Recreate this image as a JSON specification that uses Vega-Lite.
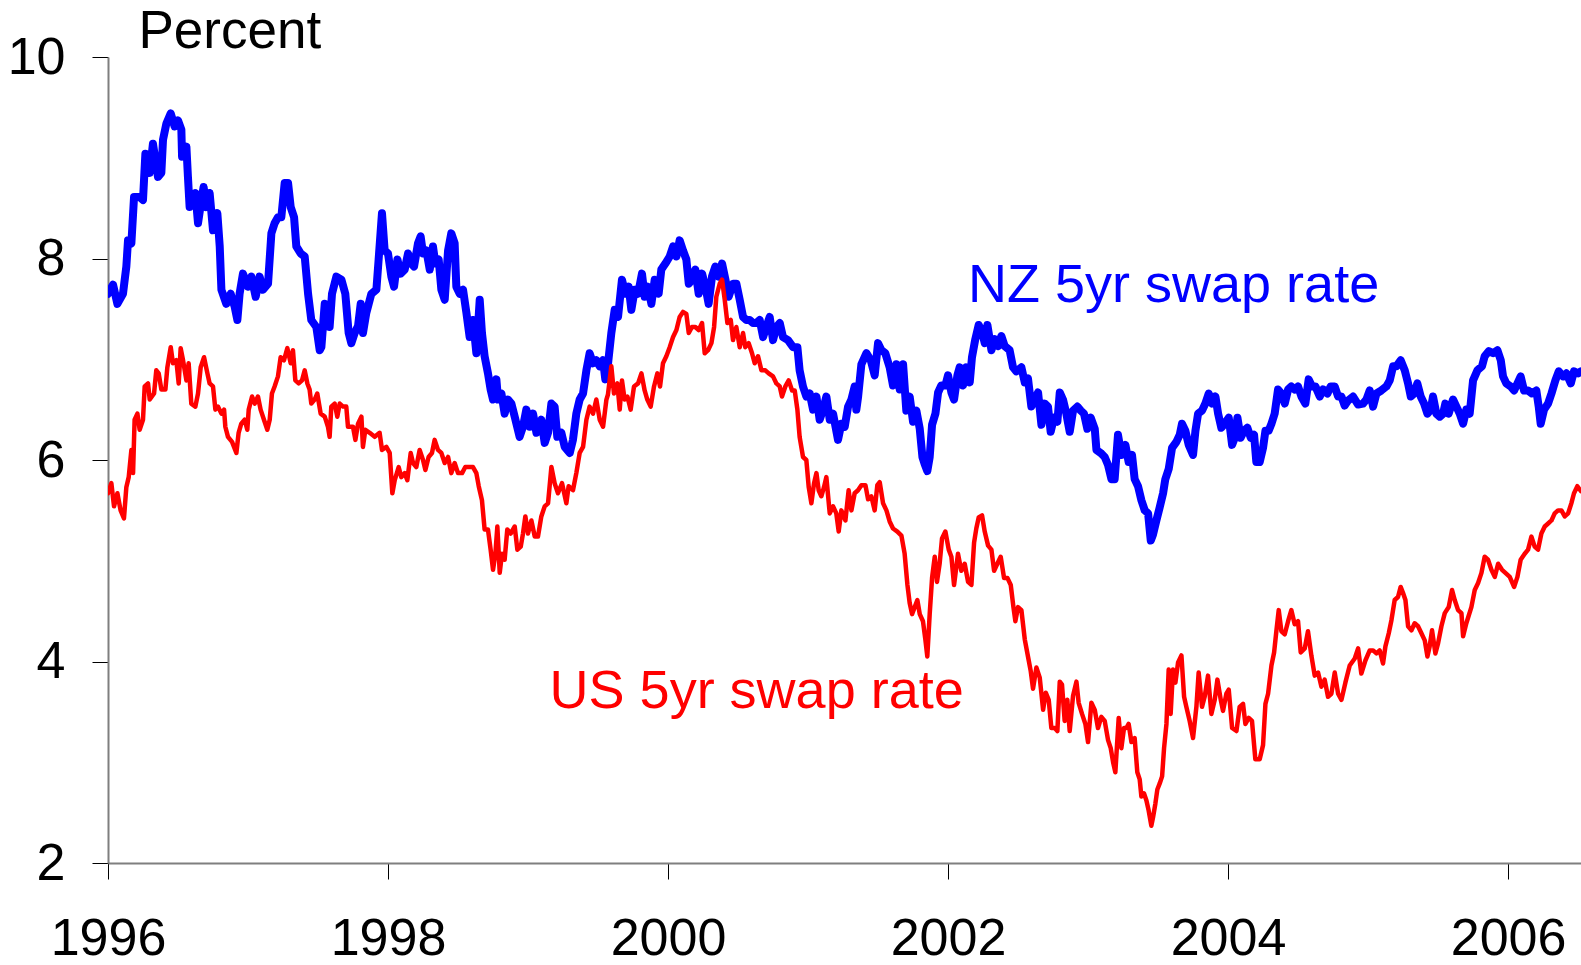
{
"$schema": "https://vega.github.io/schema/vega-lite/v6.json",
"width": 1473,
"height": 806,
"autosize": {"type": "none"},
"padding": {"left": 108, "top": 57, "right": 0, "bottom": 102},
"background": "white",
"view": {"stroke": null},
"config": {"font": "Liberation Sans"},
"datasets": {
"nz": [
{"t":1996.000,"v":7.65},{"t":1996.036,"v":7.74},{"t":1996.067,"v":7.55},{"t":1996.107,"v":7.65},{"t":1996.131,"v":7.92},{"t":1996.143,"v":8.18},{"t":1996.167,"v":8.15},{"t":1996.186,"v":8.61},{"t":1996.226,"v":8.61},{"t":1996.250,"v":8.58},{"t":1996.267,"v":9.04},{"t":1996.298,"v":8.85},{"t":1996.321,"v":9.14},{"t":1996.357,"v":8.81},{"t":1996.381,"v":8.85},{"t":1996.393,"v":9.18},{"t":1996.417,"v":9.34},{"t":1996.448,"v":9.44},{"t":1996.476,"v":9.31},{"t":1996.500,"v":9.37},{"t":1996.524,"v":9.28},{"t":1996.529,"v":9.01},{"t":1996.560,"v":9.11},{"t":1996.571,"v":8.81},{"t":1996.583,"v":8.51},{"t":1996.607,"v":8.58},{"t":1996.624,"v":8.65},{"t":1996.643,"v":8.35},{"t":1996.667,"v":8.58},{"t":1996.683,"v":8.71},{"t":1996.702,"v":8.51},{"t":1996.726,"v":8.65},{"t":1996.750,"v":8.28},{"t":1996.781,"v":8.45},{"t":1996.798,"v":8.12},{"t":1996.810,"v":7.69},{"t":1996.845,"v":7.55},{"t":1996.876,"v":7.65},{"t":1996.905,"v":7.52},{"t":1996.924,"v":7.39},{"t":1996.940,"v":7.65},{"t":1996.964,"v":7.85},{"t":1997.000,"v":7.72},{"t":1997.024,"v":7.82},{"t":1997.055,"v":7.62},{"t":1997.083,"v":7.82},{"t":1997.107,"v":7.69},{"t":1997.143,"v":7.75},{"t":1997.167,"v":8.25},{"t":1997.190,"v":8.35},{"t":1997.214,"v":8.41},{"t":1997.238,"v":8.41},{"t":1997.262,"v":8.75},{"t":1997.286,"v":8.75},{"t":1997.305,"v":8.51},{"t":1997.329,"v":8.41},{"t":1997.345,"v":8.12},{"t":1997.376,"v":8.05},{"t":1997.405,"v":8.02},{"t":1997.429,"v":7.65},{"t":1997.452,"v":7.39},{"t":1997.488,"v":7.32},{"t":1997.512,"v":7.09},{"t":1997.524,"v":7.12},{"t":1997.548,"v":7.55},{"t":1997.571,"v":7.45},{"t":1997.583,"v":7.32},{"t":1997.600,"v":7.65},{"t":1997.631,"v":7.82},{"t":1997.667,"v":7.79},{"t":1997.695,"v":7.65},{"t":1997.719,"v":7.26},{"t":1997.738,"v":7.16},{"t":1997.762,"v":7.26},{"t":1997.786,"v":7.33},
{"t":1997.805,"v":7.55},{"t":1997.821,"v":7.26},{"t":1997.845,"v":7.46},{"t":1997.881,"v":7.65},{"t":1997.917,"v":7.69},{"t":1997.933,"v":7.99},{"t":1997.957,"v":8.45},{"t":1997.976,"v":8.08},{"t":1998.000,"v":8.05},{"t":1998.024,"v":7.82},{"t":1998.043,"v":7.72},{"t":1998.067,"v":7.99},{"t":1998.090,"v":7.85},{"t":1998.119,"v":7.89},{"t":1998.143,"v":8.05},{"t":1998.167,"v":7.95},{"t":1998.186,"v":7.92},{"t":1998.214,"v":8.15},{"t":1998.233,"v":8.22},{"t":1998.250,"v":8.05},{"t":1998.274,"v":8.08},{"t":1998.298,"v":7.89},{"t":1998.321,"v":8.12},{"t":1998.338,"v":7.95},{"t":1998.362,"v":7.99},{"t":1998.381,"v":7.69},{"t":1998.405,"v":7.59},{"t":1998.429,"v":8.08},{"t":1998.452,"v":8.25},{"t":1998.476,"v":8.15},{"t":1998.488,"v":7.72},{"t":1998.512,"v":7.65},{"t":1998.536,"v":7.69},{"t":1998.560,"v":7.46},{"t":1998.583,"v":7.22},{"t":1998.607,"v":7.39},{"t":1998.631,"v":7.06},{"t":1998.655,"v":7.59},{"t":1998.671,"v":7.26},{"t":1998.690,"v":7.03},{"t":1998.714,"v":6.86},{"t":1998.733,"v":6.70},{"t":1998.750,"v":6.60},{"t":1998.774,"v":6.80},{"t":1998.786,"v":6.60},{"t":1998.810,"v":6.66},{"t":1998.833,"v":6.46},{"t":1998.857,"v":6.60},{"t":1998.881,"v":6.56},{"t":1998.905,"v":6.43},{"t":1998.940,"v":6.23},{"t":1998.964,"v":6.33},{"t":1998.988,"v":6.50},{"t":1999.012,"v":6.33},{"t":1999.036,"v":6.46},{"t":1999.060,"v":6.27},{"t":1999.095,"v":6.40},{"t":1999.119,"v":6.17},{"t":1999.143,"v":6.27},{"t":1999.167,"v":6.56},{"t":1999.190,"v":6.53},{"t":1999.209,"v":6.23},{"t":1999.238,"v":6.27},{"t":1999.262,"v":6.13},{"t":1999.298,"v":6.07},{"t":1999.321,"v":6.20},{"t":1999.345,"v":6.46},{"t":1999.369,"v":6.60},{"t":1999.393,"v":6.66},{"t":1999.417,"v":6.89},{"t":1999.440,"v":7.06},{"t":1999.464,"v":6.96},{"t":1999.488,"v":6.99},{"t":1999.512,"v":6.93},{"t":1999.536,"v":6.99},{"t":1999.552,"v":6.80},{"t":1999.571,"v":6.95},
{"t":1999.595,"v":7.26},{"t":1999.619,"v":7.49},{"t":1999.643,"v":7.42},{"t":1999.671,"v":7.79},{"t":1999.695,"v":7.65},{"t":1999.719,"v":7.72},{"t":1999.738,"v":7.49},{"t":1999.762,"v":7.69},{"t":1999.786,"v":7.65},{"t":1999.814,"v":7.85},{"t":1999.833,"v":7.62},{"t":1999.857,"v":7.72},{"t":1999.881,"v":7.55},{"t":1999.905,"v":7.79},{"t":1999.933,"v":7.65},{"t":1999.952,"v":7.89},{"t":1999.981,"v":7.95},{"t":2000.012,"v":8.02},{"t":2000.036,"v":8.12},{"t":2000.060,"v":8.02},{"t":2000.083,"v":8.18},{"t":2000.107,"v":8.08},{"t":2000.131,"v":7.99},{"t":2000.148,"v":7.75},{"t":2000.171,"v":7.79},{"t":2000.195,"v":7.89},{"t":2000.219,"v":7.65},{"t":2000.243,"v":7.85},{"t":2000.267,"v":7.72},{"t":2000.290,"v":7.55},{"t":2000.314,"v":7.82},{"t":2000.338,"v":7.92},{"t":2000.362,"v":7.82},{"t":2000.386,"v":7.95},{"t":2000.410,"v":7.79},{"t":2000.433,"v":7.62},{"t":2000.464,"v":7.75},{"t":2000.488,"v":7.75},{"t":2000.512,"v":7.59},{"t":2000.536,"v":7.42},{"t":2000.560,"v":7.39},{"t":2000.583,"v":7.39},{"t":2000.607,"v":7.36},{"t":2000.631,"v":7.36},{"t":2000.655,"v":7.39},{"t":2000.679,"v":7.22},{"t":2000.702,"v":7.32},{"t":2000.726,"v":7.42},{"t":2000.750,"v":7.19},{"t":2000.774,"v":7.32},{"t":2000.798,"v":7.36},{"t":2000.821,"v":7.22},{"t":2000.857,"v":7.19},{"t":2000.893,"v":7.12},{"t":2000.924,"v":7.12},{"t":2000.940,"v":6.89},{"t":2000.964,"v":6.73},{"t":2000.988,"v":6.63},{"t":2001.012,"v":6.66},{"t":2001.036,"v":6.50},{"t":2001.060,"v":6.63},{"t":2001.083,"v":6.40},{"t":2001.107,"v":6.50},{"t":2001.131,"v":6.63},{"t":2001.155,"v":6.40},{"t":2001.179,"v":6.46},{"t":2001.214,"v":6.20},{"t":2001.238,"v":6.36},{"t":2001.262,"v":6.33},{"t":2001.286,"v":6.53},{"t":2001.310,"v":6.60},{"t":2001.333,"v":6.73},{"t":2001.345,"v":6.50},{"t":2001.357,"v":6.62},
{"t":2001.381,"v":6.95},{"t":2001.417,"v":7.06},{"t":2001.448,"v":6.99},{"t":2001.476,"v":6.84},{"t":2001.500,"v":7.16},{"t":2001.524,"v":7.09},{"t":2001.552,"v":7.06},{"t":2001.583,"v":6.92},{"t":2001.607,"v":6.74},{"t":2001.631,"v":6.95},{"t":2001.655,"v":6.70},{"t":2001.679,"v":6.95},{"t":2001.702,"v":6.49},{"t":2001.726,"v":6.63},{"t":2001.750,"v":6.38},{"t":2001.774,"v":6.49},{"t":2001.798,"v":6.31},{"t":2001.817,"v":6.03},{"t":2001.833,"v":5.96},{"t":2001.852,"v":5.89},{"t":2001.869,"v":6.03},{"t":2001.886,"v":6.35},{"t":2001.910,"v":6.46},{"t":2001.929,"v":6.67},{"t":2001.952,"v":6.74},{"t":2001.981,"v":6.74},{"t":2002.000,"v":6.84},{"t":2002.024,"v":6.67},{"t":2002.043,"v":6.60},{"t":2002.067,"v":6.84},{"t":2002.083,"v":6.92},{"t":2002.107,"v":6.74},{"t":2002.131,"v":6.92},{"t":2002.155,"v":6.77},{"t":2002.171,"v":7.02},{"t":2002.195,"v":7.20},{"t":2002.219,"v":7.34},{"t":2002.243,"v":7.27},{"t":2002.262,"v":7.16},{"t":2002.281,"v":7.34},{"t":2002.310,"v":7.09},{"t":2002.333,"v":7.20},{"t":2002.357,"v":7.13},{"t":2002.381,"v":7.23},{"t":2002.405,"v":7.13},{"t":2002.440,"v":7.09},{"t":2002.464,"v":6.92},{"t":2002.488,"v":6.88},{"t":2002.524,"v":6.92},{"t":2002.548,"v":6.77},{"t":2002.571,"v":6.81},{"t":2002.595,"v":6.53},{"t":2002.619,"v":6.60},{"t":2002.643,"v":6.67},{"t":2002.667,"v":6.35},{"t":2002.690,"v":6.56},{"t":2002.714,"v":6.53},{"t":2002.733,"v":6.28},{"t":2002.757,"v":6.42},{"t":2002.781,"v":6.38},{"t":2002.798,"v":6.67},{"t":2002.821,"v":6.60},{"t":2002.845,"v":6.46},{"t":2002.869,"v":6.28},{"t":2002.893,"v":6.49},{"t":2002.924,"v":6.53},{"t":2002.948,"v":6.49},{"t":2002.971,"v":6.46},{"t":2002.995,"v":6.31},{"t":2003.019,"v":6.42},{"t":2003.048,"v":6.31},{"t":2003.060,"v":6.10},{"t":2003.090,"v":6.07},{"t":2003.119,"v":6.03},{"t":2003.143,"v":5.95},
{"t":2003.167,"v":5.81},{"t":2003.190,"v":5.81},{"t":2003.214,"v":6.25},{"t":2003.238,"v":6.05},{"t":2003.267,"v":6.15},{"t":2003.290,"v":5.98},{"t":2003.314,"v":6.05},{"t":2003.333,"v":5.81},{"t":2003.357,"v":5.74},{"t":2003.381,"v":5.60},{"t":2003.405,"v":5.50},{"t":2003.429,"v":5.47},{"t":2003.448,"v":5.20},{"t":2003.464,"v":5.26},{"t":2003.488,"v":5.40},{"t":2003.512,"v":5.53},{"t":2003.536,"v":5.67},{"t":2003.552,"v":5.81},{"t":2003.576,"v":5.91},{"t":2003.600,"v":6.12},{"t":2003.631,"v":6.18},{"t":2003.655,"v":6.25},{"t":2003.671,"v":6.36},{"t":2003.695,"v":6.29},{"t":2003.719,"v":6.15},{"t":2003.750,"v":6.05},{"t":2003.767,"v":6.29},{"t":2003.786,"v":6.46},{"t":2003.814,"v":6.49},{"t":2003.838,"v":6.56},{"t":2003.862,"v":6.66},{"t":2003.886,"v":6.56},{"t":2003.910,"v":6.63},{"t":2003.929,"v":6.46},{"t":2003.952,"v":6.32},{"t":2003.976,"v":6.36},{"t":2004.005,"v":6.42},{"t":2004.029,"v":6.15},{"t":2004.048,"v":6.22},{"t":2004.067,"v":6.42},{"t":2004.090,"v":6.22},{"t":2004.114,"v":6.29},{"t":2004.138,"v":6.32},{"t":2004.162,"v":6.22},{"t":2004.186,"v":6.25},{"t":2004.202,"v":5.98},{"t":2004.226,"v":5.98},{"t":2004.250,"v":6.12},{"t":2004.267,"v":6.29},{"t":2004.290,"v":6.29},{"t":2004.310,"v":6.36},{"t":2004.333,"v":6.46},{"t":2004.357,"v":6.70},{"t":2004.381,"v":6.66},{"t":2004.405,"v":6.56},{"t":2004.429,"v":6.70},{"t":2004.452,"v":6.73},{"t":2004.476,"v":6.70},{"t":2004.500,"v":6.73},{"t":2004.524,"v":6.63},{"t":2004.552,"v":6.56},{"t":2004.576,"v":6.80},{"t":2004.600,"v":6.73},{"t":2004.624,"v":6.73},{"t":2004.655,"v":6.63},{"t":2004.679,"v":6.70},{"t":2004.710,"v":6.66},{"t":2004.733,"v":6.73},{"t":2004.762,"v":6.73},{"t":2004.786,"v":6.63},{"t":2004.810,"v":6.63},{"t":2004.833,"v":6.54},{"t":2004.857,"v":6.59},{"t":2004.893,"v":6.63},{"t":2004.929,"v":6.55},
{"t":2004.964,"v":6.56},{"t":2004.988,"v":6.60},{"t":2005.012,"v":6.69},{"t":2005.036,"v":6.53},{"t":2005.060,"v":6.66},{"t":2005.095,"v":6.69},{"t":2005.131,"v":6.73},{"t":2005.155,"v":6.79},{"t":2005.179,"v":6.93},{"t":2005.202,"v":6.93},{"t":2005.233,"v":6.99},{"t":2005.262,"v":6.89},{"t":2005.286,"v":6.76},{"t":2005.305,"v":6.63},{"t":2005.329,"v":6.66},{"t":2005.352,"v":6.76},{"t":2005.376,"v":6.63},{"t":2005.400,"v":6.56},{"t":2005.424,"v":6.46},{"t":2005.448,"v":6.50},{"t":2005.464,"v":6.63},{"t":2005.488,"v":6.46},{"t":2005.512,"v":6.43},{"t":2005.536,"v":6.46},{"t":2005.552,"v":6.56},{"t":2005.576,"v":6.46},{"t":2005.607,"v":6.60},{"t":2005.631,"v":6.53},{"t":2005.655,"v":6.46},{"t":2005.679,"v":6.36},{"t":2005.702,"v":6.50},{"t":2005.726,"v":6.46},{"t":2005.750,"v":6.79},{"t":2005.781,"v":6.89},{"t":2005.814,"v":6.93},{"t":2005.833,"v":7.03},{"t":2005.862,"v":7.08},{"t":2005.893,"v":7.06},{"t":2005.924,"v":7.09},{"t":2005.948,"v":6.99},{"t":2005.964,"v":6.83},{"t":2005.988,"v":6.76},{"t":2006.019,"v":6.73},{"t":2006.043,"v":6.69},{"t":2006.067,"v":6.76},{"t":2006.090,"v":6.83},{"t":2006.114,"v":6.69},{"t":2006.143,"v":6.69},{"t":2006.171,"v":6.66},{"t":2006.202,"v":6.69},{"t":2006.219,"v":6.53},{"t":2006.233,"v":6.36},{"t":2006.257,"v":6.50},{"t":2006.286,"v":6.56},{"t":2006.310,"v":6.66},{"t":2006.338,"v":6.79},{"t":2006.362,"v":6.88},{"t":2006.393,"v":6.83},{"t":2006.417,"v":6.86},{"t":2006.448,"v":6.76},{"t":2006.471,"v":6.88},{"t":2006.500,"v":6.86},{"t":2006.521,"v":6.88}
],
"us": [
{"t":1996.000,"v":5.67},{"t":1996.024,"v":5.77},{"t":1996.043,"v":5.54},{"t":1996.067,"v":5.67},{"t":1996.090,"v":5.50},{"t":1996.114,"v":5.42},{"t":1996.131,"v":5.73},{"t":1996.148,"v":5.83},{"t":1996.167,"v":6.10},{"t":1996.179,"v":5.87},{"t":1996.190,"v":6.40},{"t":1996.210,"v":6.46},{"t":1996.226,"v":6.30},{"t":1996.250,"v":6.40},{"t":1996.262,"v":6.73},{"t":1996.286,"v":6.76},{"t":1996.298,"v":6.60},{"t":1996.329,"v":6.66},{"t":1996.345,"v":6.89},{"t":1996.362,"v":6.86},{"t":1996.381,"v":6.70},{"t":1996.410,"v":6.70},{"t":1996.424,"v":6.92},{"t":1996.448,"v":7.12},{"t":1996.464,"v":6.96},{"t":1996.488,"v":6.99},{"t":1996.505,"v":6.76},{"t":1996.519,"v":7.11},{"t":1996.536,"v":6.99},{"t":1996.560,"v":6.79},{"t":1996.576,"v":6.96},{"t":1996.595,"v":6.56},{"t":1996.624,"v":6.53},{"t":1996.643,"v":6.66},{"t":1996.662,"v":6.92},{"t":1996.686,"v":7.02},{"t":1996.710,"v":6.86},{"t":1996.726,"v":6.76},{"t":1996.750,"v":6.73},{"t":1996.767,"v":6.50},{"t":1996.786,"v":6.53},{"t":1996.810,"v":6.46},{"t":1996.829,"v":6.50},{"t":1996.838,"v":6.33},{"t":1996.857,"v":6.23},{"t":1996.886,"v":6.18},{"t":1996.917,"v":6.07},{"t":1996.933,"v":6.27},{"t":1996.952,"v":6.36},{"t":1996.976,"v":6.40},{"t":1996.995,"v":6.30},{"t":1997.005,"v":6.50},{"t":1997.029,"v":6.63},{"t":1997.048,"v":6.56},{"t":1997.071,"v":6.63},{"t":1997.090,"v":6.50},{"t":1997.114,"v":6.40},{"t":1997.138,"v":6.30},{"t":1997.155,"v":6.40},{"t":1997.171,"v":6.66},{"t":1997.190,"v":6.73},{"t":1997.214,"v":6.83},{"t":1997.233,"v":7.02},{"t":1997.257,"v":6.99},{"t":1997.281,"v":7.11},{"t":1997.305,"v":6.96},{"t":1997.321,"v":7.09},{"t":1997.338,"v":6.79},{"t":1997.362,"v":6.76},{"t":1997.386,"v":6.79},{"t":1997.405,"v":6.89},{"t":1997.424,"v":6.76},{"t":1997.440,"v":6.70},{"t":1997.452,"v":6.56},{"t":1997.476,"v":6.60},{"t":1997.495,"v":6.66},{"t":1997.519,"v":6.46},{"t":1997.548,"v":6.43},{"t":1997.571,"v":6.33},{"t":1997.583,"v":6.23},{"t":1997.595,"v":6.53},{"t":1997.619,"v":6.56},{"t":1997.638,"v":6.43},{"t":1997.655,"v":6.56},{"t":1997.679,"v":6.53},{"t":1997.702,"v":6.53},{"t":1997.714,"v":6.33},{"t":1997.750,"v":6.33},{"t":1997.767,"v":6.20},{"t":1997.786,"v":6.36},
{"t":1997.810,"v":6.43},{"t":1997.821,"v":6.13},{"t":1997.838,"v":6.30},{"t":1997.869,"v":6.27},{"t":1997.905,"v":6.23},{"t":1997.940,"v":6.27},{"t":1997.957,"v":6.10},{"t":1997.988,"v":6.13},{"t":1998.012,"v":6.07},{"t":1998.031,"v":5.67},{"t":1998.048,"v":5.80},{"t":1998.076,"v":5.93},{"t":1998.095,"v":5.83},{"t":1998.119,"v":5.87},{"t":1998.138,"v":5.80},{"t":1998.162,"v":6.07},{"t":1998.179,"v":5.97},{"t":1998.202,"v":5.93},{"t":1998.226,"v":6.10},{"t":1998.250,"v":6.00},{"t":1998.267,"v":5.90},{"t":1998.290,"v":6.03},{"t":1998.314,"v":6.07},{"t":1998.333,"v":6.20},{"t":1998.357,"v":6.10},{"t":1998.381,"v":6.07},{"t":1998.405,"v":5.97},{"t":1998.429,"v":6.03},{"t":1998.452,"v":5.87},{"t":1998.476,"v":5.97},{"t":1998.500,"v":5.87},{"t":1998.529,"v":5.87},{"t":1998.552,"v":5.93},{"t":1998.583,"v":5.93},{"t":1998.607,"v":5.93},{"t":1998.631,"v":5.87},{"t":1998.648,"v":5.74},{"t":1998.671,"v":5.60},{"t":1998.690,"v":5.31},{"t":1998.714,"v":5.31},{"t":1998.733,"v":5.11},{"t":1998.750,"v":4.91},{"t":1998.767,"v":5.07},{"t":1998.781,"v":5.34},{"t":1998.798,"v":4.88},{"t":1998.814,"v":5.07},{"t":1998.833,"v":5.01},{"t":1998.852,"v":5.31},{"t":1998.876,"v":5.27},{"t":1998.905,"v":5.34},{"t":1998.924,"v":5.11},{"t":1998.948,"v":5.14},{"t":1998.964,"v":5.27},{"t":1998.981,"v":5.44},{"t":1999.000,"v":5.27},{"t":1999.024,"v":5.40},{"t":1999.048,"v":5.24},{"t":1999.071,"v":5.24},{"t":1999.095,"v":5.44},{"t":1999.119,"v":5.54},{"t":1999.143,"v":5.57},{"t":1999.167,"v":5.93},{"t":1999.190,"v":5.77},{"t":1999.214,"v":5.67},{"t":1999.243,"v":5.77},{"t":1999.274,"v":5.57},{"t":1999.290,"v":5.74},{"t":1999.321,"v":5.70},{"t":1999.345,"v":5.87},{"t":1999.369,"v":6.07},{"t":1999.393,"v":6.13},{"t":1999.417,"v":6.40},{"t":1999.440,"v":6.53},{"t":1999.464,"v":6.46},{"t":1999.488,"v":6.60},{"t":1999.512,"v":6.40},{"t":1999.536,"v":6.33},{"t":1999.560,"v":6.60},{"t":1999.571,"v":6.65},
{"t":1999.595,"v":6.93},{"t":1999.614,"v":6.66},{"t":1999.638,"v":6.76},{"t":1999.655,"v":6.50},{"t":1999.671,"v":6.79},{"t":1999.690,"v":6.60},{"t":1999.710,"v":6.63},{"t":1999.733,"v":6.50},{"t":1999.757,"v":6.73},{"t":1999.786,"v":6.76},{"t":1999.810,"v":6.86},{"t":1999.833,"v":6.69},{"t":1999.852,"v":6.60},{"t":1999.876,"v":6.53},{"t":1999.900,"v":6.73},{"t":1999.924,"v":6.86},{"t":1999.943,"v":6.73},{"t":1999.964,"v":6.96},{"t":1999.988,"v":7.03},{"t":2000.012,"v":7.12},{"t":2000.036,"v":7.22},{"t":2000.060,"v":7.29},{"t":2000.083,"v":7.42},{"t":2000.107,"v":7.47},{"t":2000.131,"v":7.45},{"t":2000.148,"v":7.26},{"t":2000.171,"v":7.32},{"t":2000.195,"v":7.32},{"t":2000.219,"v":7.29},{"t":2000.243,"v":7.36},{"t":2000.262,"v":7.06},{"t":2000.286,"v":7.09},{"t":2000.310,"v":7.16},{"t":2000.329,"v":7.32},{"t":2000.345,"v":7.62},{"t":2000.369,"v":7.75},{"t":2000.386,"v":7.79},{"t":2000.405,"v":7.59},{"t":2000.424,"v":7.36},{"t":2000.448,"v":7.39},{"t":2000.464,"v":7.19},{"t":2000.488,"v":7.32},{"t":2000.512,"v":7.12},{"t":2000.536,"v":7.26},{"t":2000.552,"v":7.12},{"t":2000.576,"v":7.16},{"t":2000.600,"v":7.06},{"t":2000.619,"v":6.96},{"t":2000.643,"v":7.03},{"t":2000.667,"v":6.89},{"t":2000.695,"v":6.89},{"t":2000.719,"v":6.86},{"t":2000.750,"v":6.83},{"t":2000.774,"v":6.76},{"t":2000.798,"v":6.73},{"t":2000.814,"v":6.63},{"t":2000.838,"v":6.73},{"t":2000.862,"v":6.79},{"t":2000.886,"v":6.69},{"t":2000.905,"v":6.69},{"t":2000.924,"v":6.50},{"t":2000.940,"v":6.23},{"t":2000.964,"v":6.03},{"t":2000.988,"v":6.00},{"t":2001.005,"v":5.73},{"t":2001.024,"v":5.57},{"t":2001.043,"v":5.77},{"t":2001.060,"v":5.87},{"t":2001.076,"v":5.70},{"t":2001.095,"v":5.64},{"t":2001.114,"v":5.73},{"t":2001.131,"v":5.83},{"t":2001.155,"v":5.47},{"t":2001.179,"v":5.54},{"t":2001.202,"v":5.47},{"t":2001.219,"v":5.29},{"t":2001.238,"v":5.50},{"t":2001.267,"v":5.40},{"t":2001.290,"v":5.70},{"t":2001.310,"v":5.50},{"t":2001.333,"v":5.67},{"t":2001.357,"v":5.70},
{"t":2001.381,"v":5.75},{"t":2001.410,"v":5.75},{"t":2001.429,"v":5.61},{"t":2001.452,"v":5.64},{"t":2001.476,"v":5.50},{"t":2001.495,"v":5.75},{"t":2001.512,"v":5.78},{"t":2001.536,"v":5.57},{"t":2001.560,"v":5.50},{"t":2001.583,"v":5.39},{"t":2001.607,"v":5.32},{"t":2001.638,"v":5.29},{"t":2001.667,"v":5.25},{"t":2001.690,"v":5.07},{"t":2001.710,"v":4.76},{"t":2001.726,"v":4.58},{"t":2001.743,"v":4.47},{"t":2001.762,"v":4.54},{"t":2001.781,"v":4.61},{"t":2001.798,"v":4.47},{"t":2001.821,"v":4.40},{"t":2001.838,"v":4.22},{"t":2001.852,"v":4.05},{"t":2001.869,"v":4.47},{"t":2001.886,"v":4.83},{"t":2001.905,"v":5.04},{"t":2001.921,"v":4.79},{"t":2001.940,"v":4.97},{"t":2001.957,"v":5.22},{"t":2001.981,"v":5.29},{"t":2002.005,"v":5.11},{"t":2002.024,"v":5.04},{"t":2002.043,"v":4.76},{"t":2002.071,"v":5.07},{"t":2002.095,"v":4.90},{"t":2002.119,"v":4.97},{"t":2002.143,"v":4.79},{"t":2002.167,"v":4.76},{"t":2002.186,"v":5.18},{"t":2002.202,"v":5.32},{"t":2002.219,"v":5.43},{"t":2002.243,"v":5.45},{"t":2002.262,"v":5.29},{"t":2002.286,"v":5.15},{"t":2002.310,"v":5.11},{"t":2002.329,"v":4.90},{"t":2002.352,"v":4.97},{"t":2002.376,"v":5.04},{"t":2002.400,"v":4.83},{"t":2002.424,"v":4.83},{"t":2002.448,"v":4.76},{"t":2002.467,"v":4.54},{"t":2002.481,"v":4.40},{"t":2002.500,"v":4.54},{"t":2002.524,"v":4.51},{"t":2002.548,"v":4.22},{"t":2002.571,"v":4.05},{"t":2002.590,"v":3.91},{"t":2002.607,"v":3.73},{"t":2002.631,"v":3.94},{"t":2002.655,"v":3.84},{"t":2002.679,"v":3.52},{"t":2002.698,"v":3.69},{"t":2002.719,"v":3.62},{"t":2002.738,"v":3.34},{"t":2002.762,"v":3.34},{"t":2002.781,"v":3.31},{"t":2002.798,"v":3.80},{"t":2002.814,"v":3.77},{"t":2002.833,"v":3.41},{"t":2002.852,"v":3.62},{"t":2002.869,"v":3.31},{"t":2002.893,"v":3.66},{"t":2002.917,"v":3.80},{"t":2002.933,"v":3.59},{"t":2002.957,"v":3.48},{"t":2002.981,"v":3.38},{"t":2003.000,"v":3.20},{"t":2003.024,"v":3.59},{"t":2003.048,"v":3.52},{"t":2003.071,"v":3.34},{"t":2003.095,"v":3.45},{"t":2003.119,"v":3.41},{"t":2003.143,"v":3.22},
{"t":2003.162,"v":3.14},{"t":2003.179,"v":3.00},{"t":2003.195,"v":2.90},{"t":2003.210,"v":3.24},{"t":2003.219,"v":3.44},{"t":2003.238,"v":3.14},{"t":2003.257,"v":3.34},{"t":2003.274,"v":3.34},{"t":2003.290,"v":3.38},{"t":2003.310,"v":3.20},{"t":2003.333,"v":3.24},{"t":2003.352,"v":2.90},{"t":2003.369,"v":2.83},{"t":2003.381,"v":2.66},{"t":2003.400,"v":2.69},{"t":2003.417,"v":2.62},{"t":2003.433,"v":2.52},{"t":2003.452,"v":2.37},{"t":2003.464,"v":2.45},{"t":2003.481,"v":2.59},{"t":2003.495,"v":2.73},{"t":2003.512,"v":2.79},{"t":2003.529,"v":2.86},{"t":2003.543,"v":3.14},{"t":2003.560,"v":3.38},{"t":2003.576,"v":3.92},{"t":2003.590,"v":3.48},{"t":2003.607,"v":3.92},{"t":2003.624,"v":3.79},{"t":2003.643,"v":3.99},{"t":2003.667,"v":4.06},{"t":2003.686,"v":3.65},{"t":2003.702,"v":3.55},{"t":2003.726,"v":3.41},{"t":2003.750,"v":3.24},{"t":2003.774,"v":3.55},{"t":2003.790,"v":3.89},{"t":2003.814,"v":3.55},{"t":2003.833,"v":3.65},{"t":2003.857,"v":3.86},{"t":2003.881,"v":3.48},{"t":2003.905,"v":3.62},{"t":2003.924,"v":3.82},{"t":2003.948,"v":3.62},{"t":2003.964,"v":3.51},{"t":2003.988,"v":3.68},{"t":2004.005,"v":3.72},{"t":2004.029,"v":3.34},{"t":2004.060,"v":3.31},{"t":2004.083,"v":3.55},{"t":2004.107,"v":3.58},{"t":2004.124,"v":3.38},{"t":2004.148,"v":3.44},{"t":2004.171,"v":3.41},{"t":2004.195,"v":3.03},{"t":2004.226,"v":3.03},{"t":2004.250,"v":3.17},{"t":2004.267,"v":3.58},{"t":2004.286,"v":3.68},{"t":2004.310,"v":3.96},{"t":2004.329,"v":4.09},{"t":2004.345,"v":4.30},{"t":2004.362,"v":4.51},{"t":2004.381,"v":4.30},{"t":2004.405,"v":4.27},{"t":2004.429,"v":4.40},{"t":2004.452,"v":4.51},{"t":2004.476,"v":4.37},{"t":2004.500,"v":4.40},{"t":2004.519,"v":4.09},{"t":2004.548,"v":4.13},{"t":2004.571,"v":4.30},{"t":2004.595,"v":4.06},{"t":2004.619,"v":3.86},{"t":2004.643,"v":3.89},{"t":2004.667,"v":3.75},{"t":2004.690,"v":3.82},{"t":2004.714,"v":3.65},{"t":2004.738,"v":3.68},{"t":2004.762,"v":3.89},{"t":2004.786,"v":3.68},{"t":2004.810,"v":3.62},{"t":2004.838,"v":3.79},{"t":2004.869,"v":3.96},{"t":2004.905,"v":4.03},{"t":2004.929,"v":4.13},
{"t":2004.952,"v":3.88},{"t":2004.981,"v":4.01},{"t":2005.012,"v":4.11},{"t":2005.036,"v":4.11},{"t":2005.060,"v":4.08},{"t":2005.083,"v":4.11},{"t":2005.107,"v":3.98},{"t":2005.124,"v":4.15},{"t":2005.148,"v":4.28},{"t":2005.167,"v":4.41},{"t":2005.190,"v":4.61},{"t":2005.214,"v":4.64},{"t":2005.233,"v":4.74},{"t":2005.250,"v":4.68},{"t":2005.267,"v":4.61},{"t":2005.286,"v":4.35},{"t":2005.310,"v":4.31},{"t":2005.333,"v":4.38},{"t":2005.357,"v":4.35},{"t":2005.381,"v":4.28},{"t":2005.405,"v":4.21},{"t":2005.424,"v":4.05},{"t":2005.440,"v":4.15},{"t":2005.457,"v":4.31},{"t":2005.481,"v":4.08},{"t":2005.500,"v":4.18},{"t":2005.524,"v":4.35},{"t":2005.548,"v":4.48},{"t":2005.576,"v":4.54},{"t":2005.600,"v":4.71},{"t":2005.619,"v":4.61},{"t":2005.643,"v":4.51},{"t":2005.667,"v":4.48},{"t":2005.679,"v":4.25},{"t":2005.702,"v":4.38},{"t":2005.738,"v":4.54},{"t":2005.762,"v":4.71},{"t":2005.786,"v":4.78},{"t":2005.810,"v":4.88},{"t":2005.833,"v":5.04},{"t":2005.857,"v":5.01},{"t":2005.881,"v":4.91},{"t":2005.905,"v":4.84},{"t":2005.929,"v":4.97},{"t":2005.957,"v":4.91},{"t":2005.981,"v":4.88},{"t":2006.012,"v":4.84},{"t":2006.043,"v":4.74},{"t":2006.067,"v":4.84},{"t":2006.090,"v":5.01},{"t":2006.119,"v":5.07},{"t":2006.143,"v":5.11},{"t":2006.167,"v":5.24},{"t":2006.190,"v":5.14},{"t":2006.214,"v":5.11},{"t":2006.238,"v":5.27},{"t":2006.262,"v":5.34},{"t":2006.286,"v":5.37},{"t":2006.310,"v":5.40},{"t":2006.333,"v":5.47},{"t":2006.357,"v":5.50},{"t":2006.381,"v":5.50},{"t":2006.405,"v":5.44},{"t":2006.429,"v":5.47},{"t":2006.452,"v":5.57},{"t":2006.471,"v":5.67},{"t":2006.495,"v":5.74},{"t":2006.521,"v":5.69}
],
"labels": [
{"t":2002.143,"v":7.568,"label":"NZ 5yr swap rate","s":"NZ"},
{"t":1999.154,"v":3.538,"label":"US 5yr swap rate","s":"US"}
]
},
"encoding": {
"x": {"field":"t","type":"quantitative","scale":{"domain":[1996,2006.521],"nice":false,"zero":false},
"axis":{"values":[1996,1998,2000,2002,2004,2006],"format":"d","title":null,"grid":false,"labelFontSize":52,"labelFont":"Liberation Sans","labelColor":"#000","labelPadding":34,"labelFlush":false,"labelOverlap":false,"tickSize":16,"tickColor":"#000","tickWidth":1,"domainColor":"#7f7f7f","domainWidth":2}},
"y": {"field":"v","type":"quantitative","scale":{"domain":[2,10],"nice":false,"zero":false},
"axis":{"values":[2,4,6,8,10],"title":"Percent","titleAngle":0,"titleAlign":"left","titleBaseline":"alphabetic","titleX":30,"titleY":-10,"titleFontSize":53,"titleFontWeight":"normal","titleFont":"Liberation Sans","titleColor":"#000","grid":false,"labelFontSize":52,"labelFont":"Liberation Sans","labelColor":"#000","labelPadding":27,"labelFlush":false,"labelOverlap":false,"tickSize":16,"tickColor":"#000","tickWidth":1,"domainColor":"#7f7f7f","domainWidth":2}}
},
"layer": [
{"data":{"name":"nz"},"mark":{"type":"line","color":"#0000ff","strokeWidth":8,"strokeJoin":"round","strokeCap":"round","clip":true}},
{"data":{"name":"us"},"mark":{"type":"line","color":"#ff0000","strokeWidth":4.5,"strokeJoin":"round","strokeCap":"round","clip":true}},
{"data":{"name":"labels"},"mark":{"type":"text","align":"left","baseline":"alphabetic","fontSize":54,"font":"Liberation Sans"},
"encoding":{"text":{"field":"label"},"color":{"field":"s","type":"nominal","scale":{"domain":["NZ","US"],"range":["#0000ff","#ff0000"]},"legend":null}}}
]
}
